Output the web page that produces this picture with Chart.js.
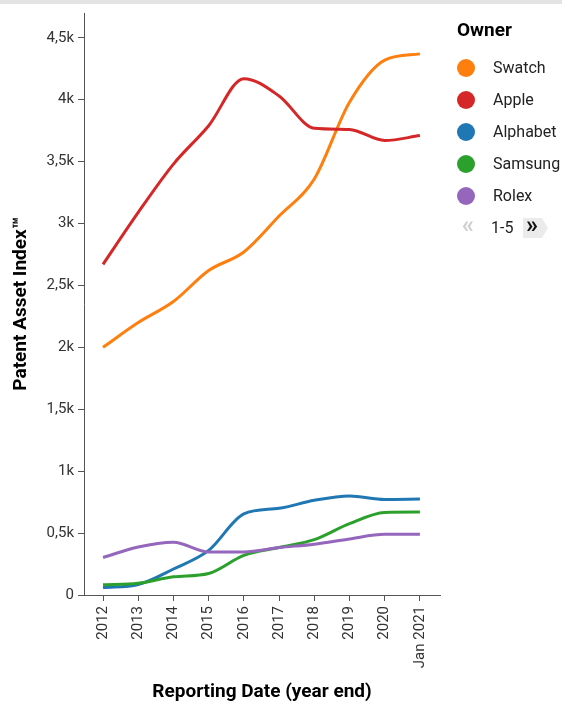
<!DOCTYPE html>
<html><head><meta charset="utf-8">
<script src="https://cdn.jsdelivr.net/npm/chart.js@4"></script>
<style>
html,body{margin:0;padding:0;background:#fff;}
#wrap{position:relative;width:562px;height:706px;overflow:hidden;}
#topbar{position:absolute;left:0;top:0;width:562px;height:4px;background:#e3e3e3;}
canvas{position:absolute;left:0;top:0;}
</style></head><body>
<div id="wrap"><canvas id="c" width="562" height="706"></canvas><div id="topbar"></div></div>
<script>
const years = [2012, 2013, 2014, 2015, 2016, 2017, 2018, 2019, 2020, 2021];
const yearLabels = ['2012', '2013', '2014', '2015', '2016', '2017', '2018', '2019', '2020', 'Jan 2021'];
const yTickValues = [0, 500, 1000, 1500, 2000, 2500, 3000, 3500, 4000, 4500];
const owners = ['Swatch', 'Apple', 'Alphabet', 'Samsung', 'Rolex'];
const ownerColors = ['#ff7f0e', '#d62728', '#1f77b4', '#2ca02c', '#9467bd'];
const swatch   = [2000, 2200, 2370, 2620, 2770, 3060, 3360, 3980, 4320, 4370];
const apple    = [2670, 3090, 3480, 3790, 4170, 4030, 3770, 3760, 3670, 3710];
const alphabet = [60, 85, 210, 360, 655, 700, 765, 800, 772, 775];
const samsung  = [83, 94, 147, 174, 320, 383, 447, 576, 667, 670];
const rolex    = [303, 388, 426, 348, 348, 383, 410, 453, 490, 490];
const seriesValues = [swatch, apple, alphabet, samsung, rolex];
const yTickLabel = v => v === 0 ? '0' : (String(v / 1000).replace('.', ',') + 'k');

const BASE = "'Roboto', sans-serif";

const legendPlugin = {
  id: 'customLegend',
  afterDraw(chart) {
    const ctx = chart.ctx;
    ctx.save();
    ctx.fillStyle = '#000';
    ctx.font = "bold 19px " + BASE;
    ctx.textBaseline = 'middle';
    ctx.textAlign = 'left';
    ctx.fillText('Owner', 457, 31);
    ctx.font = "16px " + BASE;
    chart.data.datasets.forEach((ds, i) => {
      const cy = 68 + i * 32;
      ctx.beginPath();
      ctx.arc(466, cy, 9, 0, Math.PI * 2);
      ctx.fillStyle = ds.borderColor;
      ctx.fill();
      ctx.fillStyle = '#222';
      ctx.fillText(ds.label, 493, cy + 1);
    });
    // pagination
    const py = 228;
    ctx.fillStyle = '#ebebeb';
    ctx.beginPath();
    ctx.moveTo(523, py - 10); ctx.lineTo(542, py - 10); ctx.lineTo(548, py); ctx.lineTo(542, py + 10); ctx.lineTo(523, py + 10); ctx.closePath();
    ctx.fill();
    ctx.font = "bold 24px " + BASE;
    ctx.fillStyle = '#cfcfcf';
    ctx.fillText('«', 462, py - 1);
    ctx.fillStyle = '#111';
    ctx.fillText('»', 526, py - 1);
    ctx.font = "16px " + BASE;
    ctx.fillStyle = '#222';
    ctx.fillText('1-5', 491, py + 1);
    ctx.restore();
  }
};

new Chart(document.getElementById('c'), {
  type: 'line',
  data: {
    datasets: owners.map((name, i) => ({
      label: name,
      data: years.map((yr, k) => ({ x: yr, y: seriesValues[i][k] })),
      borderColor: ownerColors[i],
      backgroundColor: ownerColors[i],
      borderWidth: 3,
      pointRadius: 0,
      cubicInterpolationMode: 'monotone',
      fill: false,
      order: owners.length - i
    }))
  },
  options: {
    responsive: false,
    devicePixelRatio: 1,
    animation: false,
    layout: { padding: { left: 0, right: 122, top: 10, bottom: 0 } },
    plugins: { legend: { display: false }, tooltip: { enabled: false } },
    scales: {
      x: {
        type: 'linear',
        min: 2011.46,
        max: 2021.57,
        afterFit: s => { s.height = 111; },
        afterBuildTicks: s => { s.ticks = years.map(v => ({ value: v })); },
        border: { display: true, color: '#555', width: 1 },
        grid: { display: true, drawOnChartArea: false, drawTicks: true, tickLength: 6, color: '#555' },
        ticks: {
          autoSkip: false,
          minRotation: 90,
          maxRotation: 90,
          padding: 5,
          color: '#333',
          font: { family: BASE, size: 15 },
          callback: v => yearLabels[years.indexOf(v)] ?? ''
        },
        title: {
          display: true,
          text: 'Reporting Date (year end)',
          color: '#000',
          font: { family: BASE, size: 19, weight: 'bold' },
          padding: { top: 0, bottom: 2 }
        }
      },
      y: {
        type: 'linear',
        min: 0,
        max: 4700,
        afterFit: s => { s.width = 84; },
        afterBuildTicks: s => { s.ticks = yTickValues.map(v => ({ value: v })); },
        border: { display: true, color: '#555', width: 1 },
        grid: { display: true, drawOnChartArea: false, drawTicks: true, tickLength: 6, color: '#555' },
        ticks: {
          padding: 4,
          color: '#333',
          font: { family: BASE, size: 15 },
          callback: v => yTickLabel(v)
        },
        title: {
          display: true,
          text: 'Patent Asset Index™',
          color: '#000',
          font: { family: BASE, size: 19, weight: 'bold' },
          padding: { top: 10, bottom: 0 }
        }
      }
    }
  },
  plugins: [legendPlugin]
});
</script>
</body></html>
